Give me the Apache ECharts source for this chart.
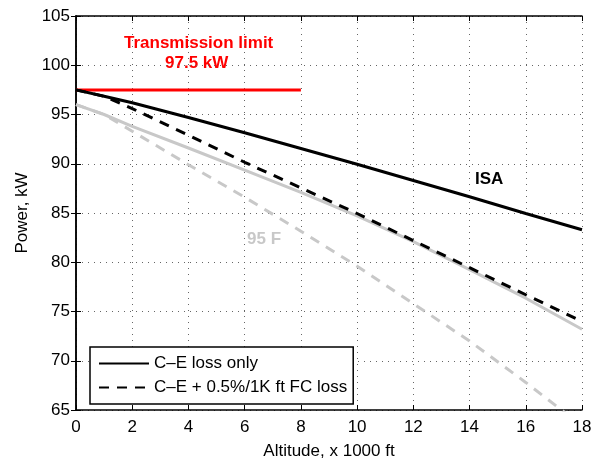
<!DOCTYPE html>
<html>
<head>
<meta charset="utf-8">
<script src="https://cdn.jsdelivr.net/npm/echarts@6/dist/echarts.min.js"></script>
<style>html,body{margin:0;padding:0;background:#fff}#c{width:601px;height:465px}</style>
</head>
<body>
<div id="c"></div>
<script>
// Altitude (x 1000 ft)
const altitude = [0, 1, 2, 4, 6, 8, 10, 12, 14, 16, 18];
// ISA, C-E loss only
const isaCE = [97.5, 96.85, 96.2, 94.7, 93.15, 91.55, 89.95, 88.3, 86.65, 84.95, 83.3];
// ISA, C-E + 0.5%/1K ft FC loss
const isaFC = [97.5, 96.85, 95.6, 92.9, 90.15, 87.55, 84.95, 82.2, 79.45, 76.7, 74.0];
// 95 F, C-E loss only
const hotCE = [96.0, 95.0, 93.8, 91.6, 89.35, 87.1, 84.7, 82.1, 79.25, 76.35, 73.2];
// 95 F, C-E + FC loss
const hotFC = [96.0, 95.0, 93.3, 89.9, 86.6, 83.15, 79.6, 75.8, 72.0, 67.8, 63.4];
// Transmission limit
const limitX = [0, 8];
const limitY = [97.5, 97.5];
const xTicks = [0, 2, 4, 6, 8, 10, 12, 14, 16, 18];
const yTicks = [65, 70, 75, 80, 85, 90, 95, 100, 105];

const pairs = (xs, ys) => xs.map((x, i) => [x, ys[i]]);
const FONT = 'Liberation Sans';
const GRAY = '#c8c8c8';

const chart = echarts.init(document.getElementById('c'), null, {renderer: 'canvas'});
const gridLine = {show: true, lineStyle: {color: '#666', type: [1, 5], width: 1}};
const axisCommon = {
  axisLine: {show: true, lineStyle: {color: '#000', width: 1.5}},
  axisTick: {show: true, inside: true, length: 5, lineStyle: {color: '#000'}},
};
const lineSeries = (name, ys, color, dashed) => ({
  name: name, type: 'line', data: pairs(altitude, ys),
  symbol: 'circle', symbolSize: 0, showSymbol: false,
  lineStyle: {color: color, width: 3, type: dashed ? [10, 8] : 'solid'},
  itemStyle: {color: color, opacity: 0}
});
chart.setOption({
  animation: false,
  textStyle: {fontFamily: FONT},
  grid: {left: 76, right: 19, top: 16, bottom: 50, show: false},
  xAxis: [
    Object.assign({
      type: 'value', min: xTicks[0], max: xTicks[xTicks.length - 1], interval: 2,
      name: 'Altitude, x 1000 ft', nameLocation: 'middle', nameGap: 33,
      nameTextStyle: {fontSize: 17, color: '#000', fontFamily: FONT},
      axisLabel: {fontSize: 17, color: '#000', fontFamily: FONT, margin: 9},
      splitLine: gridLine
    }, axisCommon),
    Object.assign({
      type: 'value', position: 'top', min: 0, max: 18, interval: 2,
      axisLabel: {show: false}, splitLine: {show: false}
    }, axisCommon)
  ],
  yAxis: [
    Object.assign({
      type: 'value', min: yTicks[0], max: yTicks[yTicks.length - 1], interval: 5,
      name: 'Power, kW', nameLocation: 'middle', nameGap: 44,
      nameTextStyle: {fontSize: 17, color: '#000', fontFamily: FONT},
      axisLabel: {fontSize: 17, color: '#000', fontFamily: FONT, margin: 6},
      splitLine: gridLine
    }, axisCommon),
    Object.assign({
      type: 'value', position: 'right', min: 65, max: 105, interval: 5,
      axisLabel: {show: false}, splitLine: {show: false}
    }, axisCommon)
  ],
  legend: {
    orient: 'vertical', left: 90, top: 347,
    data: ['C–E loss only', 'C–E + 0.5%/1K ft FC loss'],
    backgroundColor: '#fff', borderColor: '#000', borderWidth: 1.5, borderRadius: 0,
    padding: [8, 6, 8, 8], itemGap: 7, itemWidth: 50, itemHeight: 14,
    itemStyle: {opacity: 0},
    textStyle: {fontSize: 17, color: '#000', fontFamily: FONT},
    selectedMode: false
  },
  series: [
    {name: 'Transmission limit', type: 'line', data: pairs(limitX, limitY), symbol: 'none',
     lineStyle: {color: '#ff0000', width: 3}, itemStyle: {color: '#ff0000'}, z: 3},
    lineSeries('95 F C–E', hotCE, GRAY, false),
    lineSeries('95 F FC', hotFC, GRAY, true),
    lineSeries('C–E loss only', isaCE, '#000', false),
    lineSeries('C–E + 0.5%/1K ft FC loss', isaFC, '#000', true)
  ],
  graphic: [
    {type: 'text', left: 124, top: 35, style: {text: 'Transmission limit', fill: '#ff0000',
      font: 'bold 17px "Liberation Sans"'}},
    {type: 'text', left: 165, top: 55, style: {text: '97.5 kW', fill: '#ff0000',
      font: 'bold 17px "Liberation Sans"'}},
    {type: 'text', left: 475, top: 171, style: {text: 'ISA', fill: '#000', font: 'bold 17px "Liberation Sans"'}},
    {type: 'text', left: 247, top: 231, style: {text: '95 F', fill: GRAY, font: 'bold 17px "Liberation Sans"'}}
  ]
});
</script>
</body>
</html>
